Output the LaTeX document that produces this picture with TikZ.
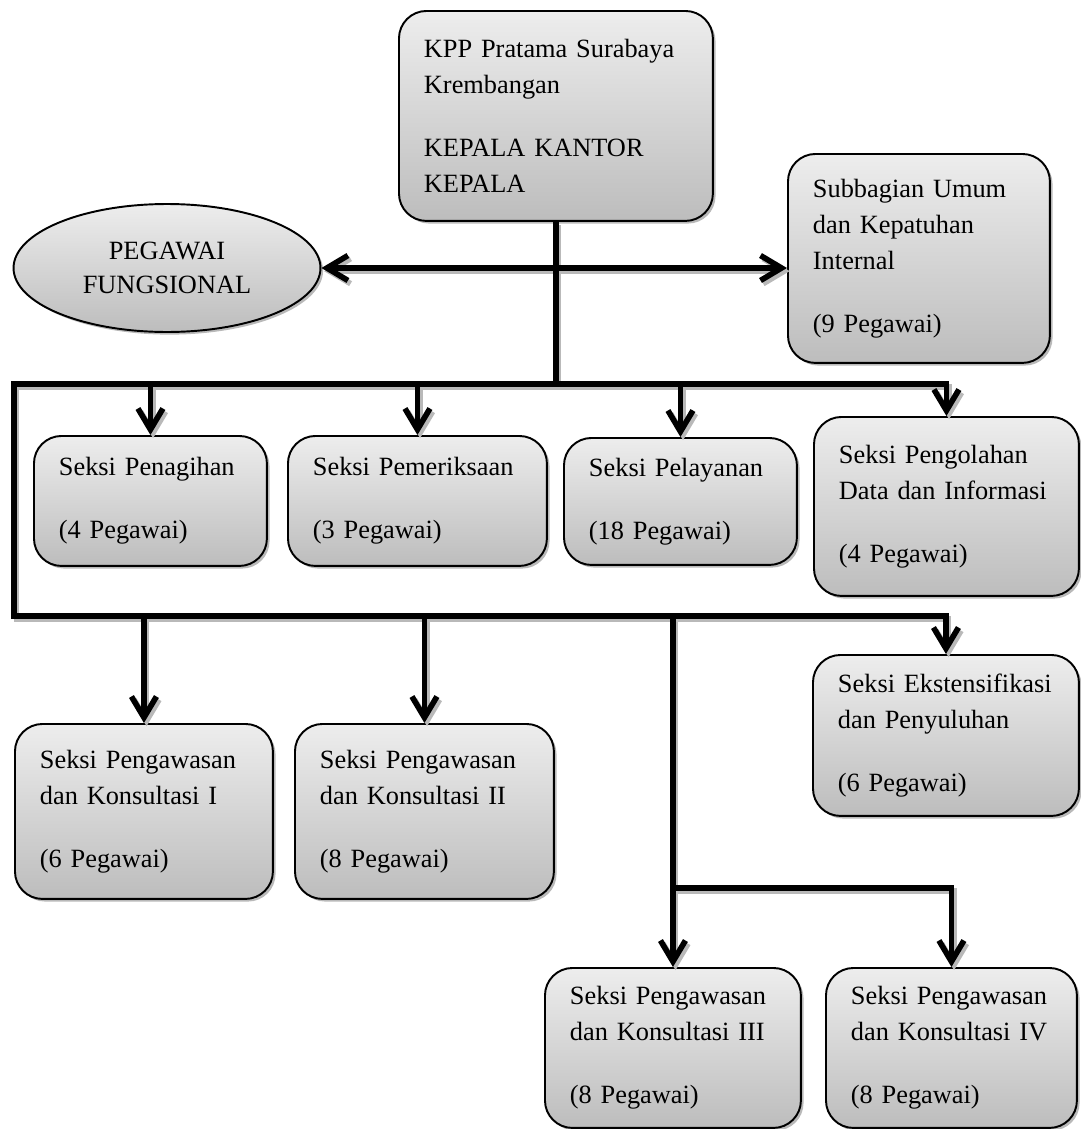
\documentclass[tikz,border=0pt]{standalone}
\usepackage{fontspec}
\setmainfont{Liberation Serif}
\usetikzlibrary{arrows.meta,shapes.geometric,shadows}

\tikzset{
  unitbox/.style={draw=black, line width=1.1pt, rounded corners=0.55cm,
    top color=gray!14, bottom color=gray!52,
    drop shadow={shadow xshift=1.5pt, shadow yshift=-1.5pt, opacity=0.55, fill=gray},
    anchor=north west, inner xsep=0.5cm, inner ysep=0pt,
    text width=#1, align=left,
    font=\fontsize{15pt}{20.5pt}\selectfont},
  wire/.style={line width=3.2pt, >={Straight Barb[length=0.42cm,width=0.5cm]}},
}

% every connector, drawn once as shadow and once in black
\newcommand{\orgwires}{%
  \draw (kpp.south) -- (kpp.south |- b1);
  \draw[<->] (pf.east) -- (pf.east -| subbag.west);
  \draw[<->] (olah.north) -- (olah.north |- b1) -- (b1) -- (b2) -- (ekst.north |- b2) -- (ekst.north);
  \foreach \n in {tagih,periksa,layan}
    \draw[->] (\n.north |- b1) -- (\n.north);
  \foreach \n in {pk1,pk2,pk3}
    \draw[->] (\n.north |- b2) -- (\n.north);
  \draw[->] (pk3.north |- b3) -- (pk4.north |- b3) -- (pk4.north);
}

\begin{document}
\begin{tikzpicture}[x=0.02cm, y=-0.02cm]
\useasboundingbox (0,0) rectangle (1081,1129);

%% top level
\node[unitbox=5.28cm, minimum height=4.2cm] (kpp) at (398,10)
  {KPP Pratama Surabaya\\Krembangan\\[0.54cm]KEPALA KANTOR\\KEPALA};
\node[ellipse, draw=black, line width=1.1pt, top color=gray!14, bottom color=gray!52,
  drop shadow={shadow xshift=1.5pt, shadow yshift=-1.5pt, opacity=0.55, fill=gray},
  minimum width=6.14cm, minimum height=2.56cm, align=center,
  font=\fontsize{15pt}{19pt}\selectfont] (pf) at (167,268) {PEGAWAI\\FUNGSIONAL};
\node[unitbox=4.24cm, minimum height=4.18cm] (subbag) at (787,153)
  {Subbagian Umum\\dan Kepatuhan\\Internal\\[0.54cm](9 Pegawai)};

%% first row
\node[unitbox=3.66cm, minimum height=2.6cm] (tagih) at (33,435)
  {Seksi Penagihan\\[0.54cm](4 Pegawai)};
\node[unitbox=4.18cm, minimum height=2.6cm] (periksa) at (287,435)
  {Seksi Pemeriksaan\\[0.54cm](3 Pegawai)};
\node[unitbox=3.66cm, minimum height=2.54cm] (layan) at (563,437)
  {Seksi Pelayanan\\[0.54cm](18 Pegawai)};
\node[unitbox=4.3cm, minimum height=3.58cm] (olah) at (813,416)
  {Seksi Pengolahan\\Data dan Informasi\\[0.54cm](4 Pegawai)};

%% second row
\node[unitbox=4.16cm, minimum height=3.5cm] (pk1) at (14,723)
  {Seksi Pengawasan\\dan Konsultasi I\\[0.54cm](6 Pegawai)};
\node[unitbox=4.18cm, minimum height=3.5cm] (pk2) at (294,723)
  {Seksi Pengawasan\\dan Konsultasi II\\[0.54cm](8 Pegawai)};
\node[unitbox=4.32cm, minimum height=3.22cm] (ekst) at (812,654)
  {Seksi Ekstensifikasi\\dan Penyuluhan\\[0.54cm](6 Pegawai)};

%% third row
\node[unitbox=4.12cm, minimum height=3.2cm] (pk3) at (544,967)
  {Seksi Pengawasan\\dan Konsultasi III\\[0.54cm](8 Pegawai)};
\node[unitbox=4.02cm, minimum height=3.2cm] (pk4) at (825,967)
  {Seksi Pengawasan\\dan Konsultasi IV\\[0.54cm](8 Pegawai)};

%% bus lines
\coordinate (b1) at (14,384);
\coordinate (b2) at (14,616);
\coordinate (b3) at (14,888);

\begin{scope}[wire, color=gray!55, transform canvas={shift={(1.5pt,-1.8pt)}}]
  \orgwires
\end{scope}
\begin{scope}[wire]
  \orgwires
\end{scope}

\end{tikzpicture}
\end{document}
